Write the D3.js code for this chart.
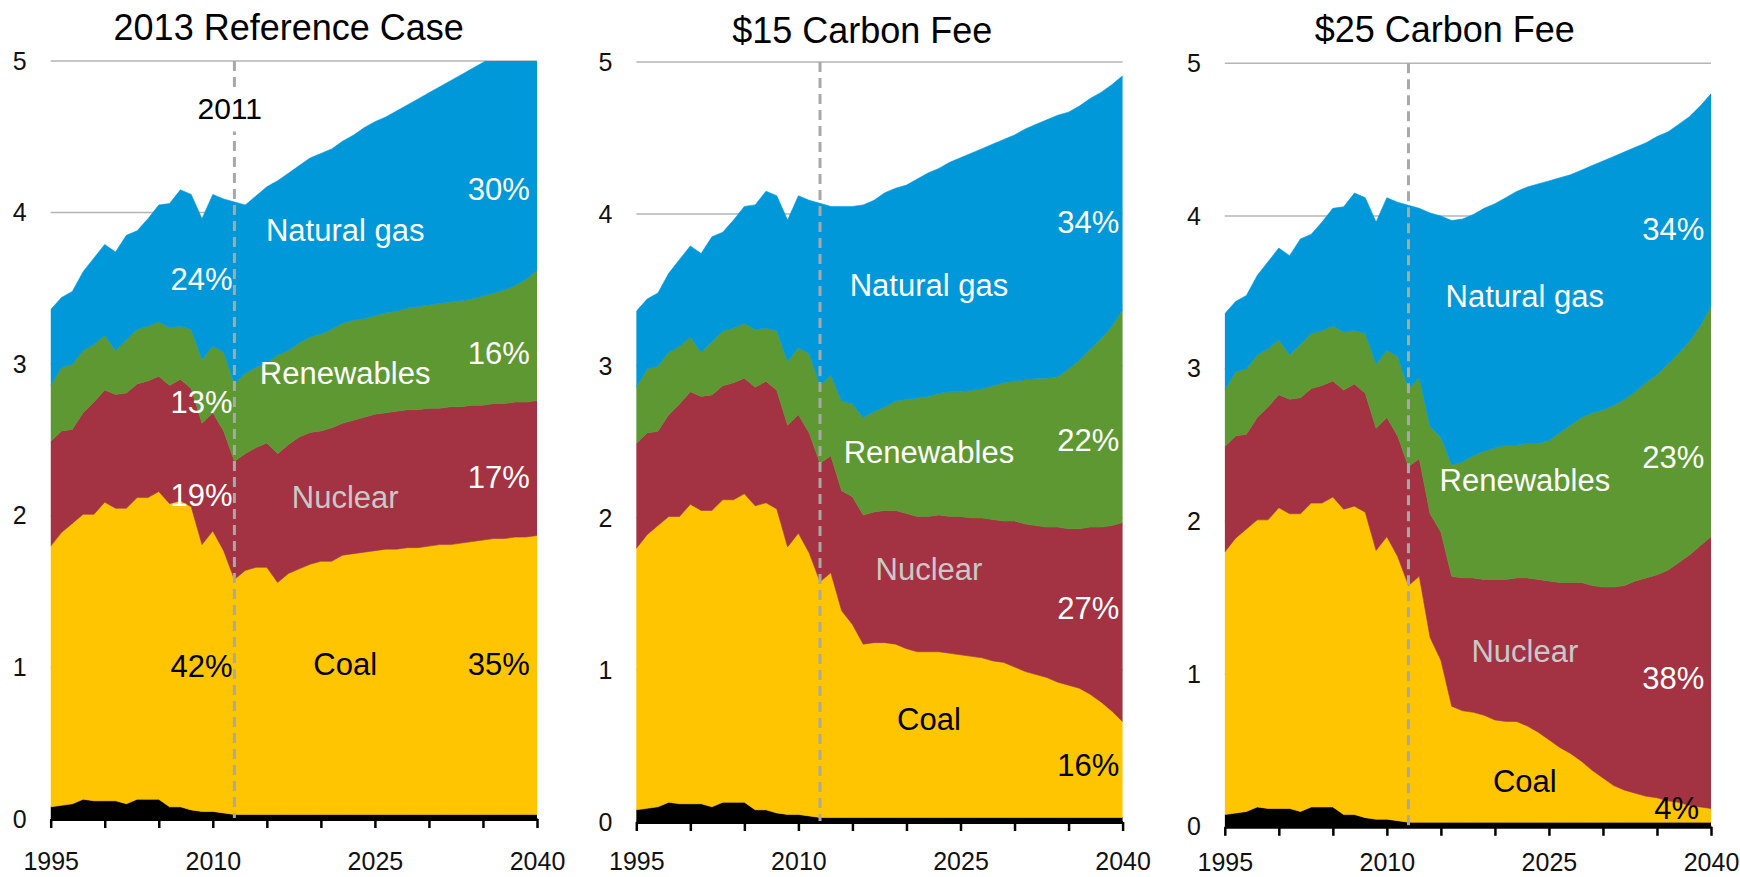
<!DOCTYPE html>
<html>
<head>
<meta charset="utf-8">
<title>Electricity generation by fuel, three cases</title>
<script src="https://d3js.org/d3.v7.min.js"></script>
<style>
  body { margin: 0; background: #fff; }
  svg { font-family: "Liberation Sans", Arial, sans-serif; }
  .tick text { font-size: 25px; fill: #111; }
</style>
</head>
<body>
<div id="chart"></div>
<script>
// years on the x axis
const years = d3.range(1995, 2041);
const sources = ["Other", "Coal", "Nuclear", "Renewables", "Natural gas"];

// history 1995-2013 (shared by all three cases)
const histOther   = [0.08,0.09,0.10,0.13,0.12,0.12,0.12,0.10,0.13,0.13,0.13,0.08,0.08,0.06,0.05,0.05,0.04,0.03,0.03];
const histCoal    = [1.72,1.80,1.85,1.88,1.89,1.97,1.93,1.95,1.99,1.99,2.03,2.00,2.02,2.00,1.76,1.85,1.73,1.55,1.61];
const histNuclear = [0.69,0.67,0.62,0.67,0.74,0.74,0.75,0.76,0.75,0.77,0.76,0.78,0.80,0.78,0.80,0.78,0.79,0.78,0.77];
const histRenew   = [0.37,0.42,0.43,0.41,0.38,0.36,0.29,0.35,0.36,0.36,0.36,0.38,0.35,0.39,0.42,0.44,0.52,0.51,0.53];
const histGas     = [0.50,0.46,0.48,0.52,0.57,0.60,0.65,0.69,0.65,0.71,0.77,0.82,0.90,0.89,0.93,1.00,1.01,1.20,1.11];

// projections 2014-2040
const projOther = [0.03,0.03,0.03,0.03,0.03,0.03,0.03,0.03,0.03,0.03,0.03,0.03,0.03,0.03,0.03,0.03,0.03,0.03,0.03,0.03,0.03,0.03,0.03,0.03,0.03,0.03,0.03];

const refCoal    = [1.63,1.63,1.53,1.59,1.62,1.65,1.67,1.67,1.71,1.72,1.73,1.74,1.75,1.75,1.76,1.76,1.77,1.78,1.78,1.79,1.80,1.81,1.82,1.82,1.83,1.83,1.84];
const refNuclear = [0.79,0.82,0.85,0.85,0.87,0.87,0.86,0.88,0.87,0.88,0.89,0.90,0.90,0.91,0.91,0.91,0.91,0.90,0.91,0.90,0.90,0.89,0.89,0.89,0.89,0.89,0.89];
const refRenew   = [0.53,0.53,0.65,0.62,0.62,0.63,0.64,0.65,0.66,0.66,0.65,0.65,0.66,0.66,0.67,0.68,0.68,0.69,0.69,0.70,0.70,0.72,0.73,0.75,0.77,0.81,0.86];
const refGas     = [1.13,1.16,1.15,1.17,1.17,1.18,1.19,1.19,1.20,1.22,1.26,1.28,1.29,1.32,1.34,1.37,1.40,1.43,1.46,1.49,1.52,1.54,1.56,1.58,1.59,1.59,1.57];

const fee15Coal    = [1.36,1.27,1.14,1.15,1.15,1.14,1.11,1.09,1.09,1.09,1.08,1.07,1.06,1.05,1.03,1.02,0.99,0.96,0.94,0.92,0.89,0.87,0.85,0.81,0.76,0.70,0.63];
const fee15Nuclear = [0.79,0.84,0.85,0.86,0.87,0.88,0.89,0.89,0.89,0.90,0.90,0.91,0.91,0.92,0.93,0.93,0.96,0.97,0.98,0.99,1.02,1.03,1.05,1.10,1.15,1.22,1.31];
const fee15Renew   = [0.59,0.61,0.64,0.66,0.68,0.72,0.75,0.78,0.79,0.80,0.82,0.82,0.84,0.85,0.88,0.91,0.92,0.95,0.97,0.98,0.99,1.05,1.11,1.17,1.24,1.31,1.40];
const fee15Gas     = [1.28,1.30,1.40,1.39,1.41,1.40,1.41,1.44,1.47,1.48,1.51,1.54,1.56,1.58,1.59,1.60,1.62,1.65,1.67,1.70,1.72,1.69,1.67,1.65,1.62,1.59,1.54];

const fee25Coal    = [1.21,1.06,0.76,0.73,0.72,0.70,0.67,0.66,0.66,0.63,0.59,0.54,0.49,0.45,0.40,0.34,0.29,0.24,0.21,0.19,0.17,0.16,0.14,0.13,0.11,0.10,0.09];
const fee25Nuclear = [0.81,0.84,0.85,0.87,0.88,0.89,0.92,0.93,0.94,0.97,1.00,1.04,1.08,1.12,1.17,1.21,1.25,1.30,1.34,1.39,1.43,1.46,1.51,1.57,1.64,1.71,1.78];
const fee25Renew   = [0.57,0.62,0.73,0.76,0.80,0.84,0.86,0.88,0.87,0.88,0.89,0.92,0.98,1.03,1.08,1.13,1.16,1.19,1.22,1.24,1.28,1.31,1.35,1.37,1.40,1.44,1.51];
const fee25Gas     = [1.40,1.45,1.60,1.59,1.58,1.59,1.60,1.62,1.66,1.68,1.70,1.70,1.67,1.64,1.62,1.62,1.63,1.63,1.62,1.60,1.57,1.56,1.52,1.50,1.47,1.44,1.39];

const yTicks = [0, 1, 2, 3, 4, 5];
const xTicks = [1995, 2000, 2005, 2010, 2015, 2020, 2025, 2030, 2035, 2040];
const xLabels = [1995, 2010, 2025, 2040];
const splitYear = 2012;

const colors = {
  "Other": "#000000",
  "Coal": "#ffc500",
  "Nuclear": "#a33242",
  "Renewables": "#5e9833",
  "Natural gas": "#0098d8"
};

// build one table per case
function makeRows(coal, nuclear, renew, gas) {
  const other = histOther.concat(projOther);
  const c = histCoal.concat(coal), n = histNuclear.concat(nuclear);
  const r = histRenew.concat(renew), g = histGas.concat(gas);
  return years.map((yr, i) => ({
    year: yr, "Other": other[i], "Coal": c[i], "Nuclear": n[i], "Renewables": r[i], "Natural gas": g[i]
  }));
}

const WHITE = "#ffffff", BLACK = "#000000", GREY = "#c9c9c9";

const panels = [
  {
    title: "2013 Reference Case", left: 50.7, top: 61, width: 486.3, height: 758, titleX: 238, titleY: -21, xPad: 24,
    rows: makeRows(refCoal, refNuclear, refRenew, refGas),
    notes: [
      {t: "Natural gas", yr: 2022.25, v: 3.887, a: "middle", c: WHITE},
      {t: "30%", yr: 2039.34, v: 4.158, a: "end", c: WHITE},
      {t: "24%", yr: 2011.84, v: 3.565, a: "end", c: WHITE},
      {t: "Renewables", yr: 2022.25, v: 2.942, a: "middle", c: WHITE},
      {t: "16%", yr: 2039.34, v: 3.074, a: "end", c: WHITE},
      {t: "13%", yr: 2011.84, v: 2.753, a: "end", c: WHITE},
      {t: "Nuclear", yr: 2022.25, v: 2.124, a: "middle", c: GREY},
      {t: "17%", yr: 2039.34, v: 2.256, a: "end", c: WHITE},
      {t: "19%", yr: 2011.84, v: 2.137, a: "end", c: WHITE},
      {t: "Coal", yr: 2022.25, v: 1.025, a: "middle", c: BLACK},
      {t: "42%", yr: 2011.84, v: 1.009, a: "end", c: BLACK},
      {t: "35%", yr: 2039.34, v: 1.025, a: "end", c: BLACK}
    ]
  },
  {
    title: "$15 Carbon Fee", left: 636.3, top: 62, width: 486.3, height: 760, titleX: 226, titleY: -19, xPad: 21,
    rows: makeRows(fee15Coal, fee15Nuclear, fee15Renew, fee15Gas),
    notes: [
      {t: "Natural gas", yr: 2022.08, v: 3.533, a: "middle", c: WHITE},
      {t: "34%", yr: 2039.69, v: 3.947, a: "end", c: WHITE},
      {t: "Renewables", yr: 2022.08, v: 2.437, a: "middle", c: WHITE},
      {t: "22%", yr: 2039.69, v: 2.516, a: "end", c: WHITE},
      {t: "Nuclear", yr: 2022.08, v: 1.663, a: "middle", c: GREY},
      {t: "27%", yr: 2039.69, v: 1.408, a: "end", c: WHITE},
      {t: "Coal", yr: 2022.08, v: 0.678, a: "middle", c: BLACK},
      {t: "16%", yr: 2039.69, v: 0.378, a: "end", c: BLACK}
    ]
  },
  {
    title: "$25 Carbon Fee", left: 1224.8, top: 63.3, width: 486.2, height: 763.5, titleX: 220, titleY: -21, xPad: 17,
    rows: makeRows(fee25Coal, fee25Nuclear, fee25Renew, fee25Gas),
    notes: [
      {t: "Natural gas", yr: 2022.77, v: 3.474, a: "middle", c: WHITE},
      {t: "34%", yr: 2039.37, v: 3.918, a: "end", c: WHITE},
      {t: "Renewables", yr: 2022.77, v: 2.268, a: "middle", c: WHITE},
      {t: "23%", yr: 2039.37, v: 2.422, a: "end", c: WHITE},
      {t: "Nuclear", yr: 2022.77, v: 1.149, a: "middle", c: GREY},
      {t: "38%", yr: 2039.37, v: 0.974, a: "end", c: WHITE},
      {t: "Coal", yr: 2022.77, v: 0.300, a: "middle", c: BLACK},
      {t: "4%", yr: 2038.9, v: 0.126, a: "end", c: BLACK}
    ]
  }
];

const svg = d3.select("#chart").append("svg")
  .attr("width", 1740)
  .attr("height", 877);

const stack = d3.stack().keys(sources);

panels.forEach((p, pi) => {
  const g = svg.append("g").attr("transform", `translate(${p.left},${p.top})`);

  const x = d3.scaleLinear().domain([1995, 2040]).range([0, p.width]);
  const y = d3.scaleLinear().domain([0, 5]).range([p.height, 0]);

  // title
  g.append("text")
    .attr("x", p.titleX)
    .attr("y", p.titleY)
    .attr("text-anchor", "middle")
    .style("font-size", "36px")
    .style("fill", "#000")
    .text(p.title);

  // gridlines behind the areas
  g.selectAll(".grid")
    .data(yTicks.slice(1))
    .join("line")
    .attr("class", "grid")
    .attr("x1", 0).attr("x2", p.width)
    .attr("y1", d => y(d)).attr("y2", d => y(d))
    .attr("stroke", "#b5b5b5")
    .attr("stroke-width", 1.5);

  const clipId = "clip" + pi;
  g.append("clipPath").attr("id", clipId)
    .append("rect").attr("width", p.width).attr("height", p.height);

  const area = d3.area()
    .x(d => x(d.data.year))
    .y0(d => y(d[0]))
    .y1(d => y(d[1]));

  g.append("g").attr("clip-path", `url(#${clipId})`)
    .selectAll("path")
    .data(stack(p.rows))
    .join("path")
    .attr("d", area)
    .attr("fill", d => colors[d.key])
    .attr("stroke", d => colors[d.key])
    .attr("stroke-width", 0.6);

  // dashed divider between history and projection
  g.append("line")
    .attr("x1", x(splitYear)).attr("x2", x(splitYear))
    .attr("y1", y(5)).attr("y2", y(0))
    .attr("stroke", "#a8a8a8")
    .attr("stroke-width", 3)
    .attr("stroke-dasharray", "10,6");

  // axes
  const xAxis = d3.axisBottom(x)
    .tickValues(xTicks)
    .tickSize(9)
    .tickSizeOuter(0)
    .tickPadding(p.xPad)
    .tickFormat(d => xLabels.includes(d) ? String(d) : "");
  const xg = g.append("g").attr("transform", `translate(0,${p.height})`).call(xAxis);
  xg.select(".domain").attr("stroke", "#000").attr("stroke-width", 3);
  xg.selectAll(".tick line").attr("stroke", "#000").attr("stroke-width", 2.5);

  const yAxis = d3.axisLeft(y)
    .tickValues(yTicks)
    .tickSize(0)
    .tickPadding(24)
    .tickFormat(d3.format("d"));
  const yg = g.append("g").call(yAxis);
  yg.select(".domain").remove();

  // "2011" marker on the first panel, with a white gap in the dashed line
  if (pi === 0) {
    const gap = g.append("rect")
      .attr("x", x(splitYear) - 5)
      .attr("width", 10)
      .attr("fill", "#fff");
    const lbl = g.append("text")
      .attr("x", x(2011.57))
      .attr("y", y(4.685) + 10.7)
      .attr("text-anchor", "middle")
      .style("font-size", "30px")
      .style("fill", "#000")
      .text("2011");
    const bb = lbl.node().getBBox();
    gap.attr("y", bb.y).attr("height", bb.height + 6);
  }

  g.selectAll(".note")
    .data(p.notes)
    .join("text")
    .attr("class", "note")
    .attr("x", d => x(d.yr))
    .attr("y", d => y(d.v) + 11)
    .attr("text-anchor", d => d.a)
    .style("font-size", "31px")
    .style("fill", d => d.c)
    .text(d => d.t);
});
</script>
</body>
</html>
